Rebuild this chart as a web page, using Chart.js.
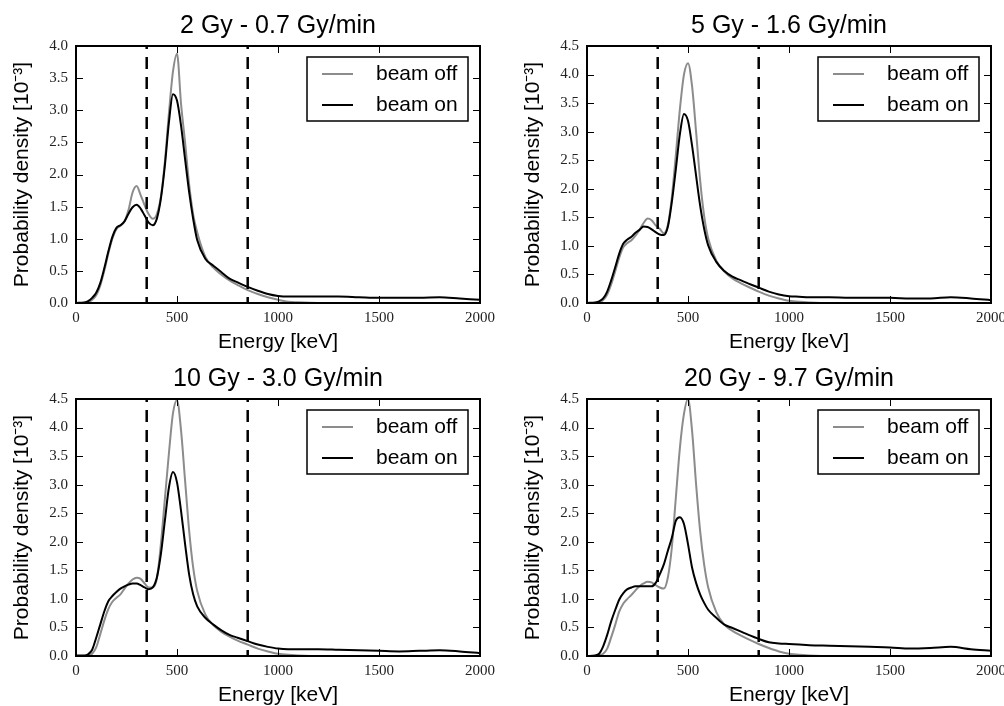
<!DOCTYPE html>
<html>
<head>
<meta charset="utf-8">
<script src="https://cdn.jsdelivr.net/npm/chart.js@4.4.1/dist/chart.umd.min.js"></script>
<style>
  html, body { margin: 0; background: #fff; }
  #page { position: relative; width: 1004px; height: 706px; overflow: hidden; }
  canvas { position: absolute; }
</style>
</head>
<body>
<div id="page">
  <canvas id="c0" width="500" height="353" style="left:0;top:0"></canvas>
  <canvas id="c1" width="493" height="353" style="left:511px;top:0"></canvas>
  <canvas id="c2" width="500" height="353" style="left:0;top:353px"></canvas>
  <canvas id="c3" width="493" height="353" style="left:511px;top:353px"></canvas>
</div>
<script>
// ------- Data ---------------------------------------------------------------

const ENERGY = [0, 40, 60, 80, 100, 120, 140, 160, 180, 200,
  220, 240, 260, 280, 300, 320, 340, 360, 380, 400,
  420, 440, 460, 480, 500, 520, 540, 560, 580, 600,
  640, 680, 720, 760, 800, 850, 900, 950, 1000, 1050,
  1100, 1200, 1300, 1400, 1500, 1600, 1700, 1800, 1900, 2000];

// 2 Gy - 0.7 Gy/min
const OFF_2GY = [0, 0, 0.01, 0.05, 0.12, 0.27, 0.5, 0.77, 1.0, 1.15,
  1.2, 1.27, 1.45, 1.72, 1.82, 1.68, 1.52, 1.38, 1.31, 1.38,
  1.65, 2.2, 2.95, 3.6, 3.88, 3.1, 2.5, 1.85, 1.38, 1.1,
  0.72, 0.55, 0.44, 0.35, 0.28, 0.2, 0.14, 0.09, 0.05, 0.02,
  0.01, 0, 0, 0, 0, 0, 0, 0, 0, 0];
const ON_2GY = [0, 0.01, 0.03, 0.08, 0.16, 0.31, 0.54, 0.8, 1.03, 1.17,
  1.21, 1.27, 1.39, 1.49, 1.53, 1.47, 1.36, 1.25, 1.21, 1.31,
  1.62, 2.14, 2.81, 3.25, 3.15, 2.76, 2.24, 1.73, 1.31, 0.98,
  0.69, 0.58, 0.48, 0.38, 0.32, 0.25, 0.19, 0.14, 0.11, 0.1,
  0.1, 0.1, 0.1, 0.09, 0.08, 0.08, 0.08, 0.09, 0.07, 0.05];

// 5 Gy - 1.6 Gy/min
const OFF_5GY = [0, 0, 0.01, 0.05, 0.15, 0.33, 0.56, 0.8, 0.98, 1.05,
  1.1, 1.18, 1.28, 1.4, 1.48, 1.45, 1.36, 1.3, 1.22, 1.36,
  1.85, 2.6, 3.4, 4.0, 4.2, 3.8, 3.0, 2.15, 1.52, 1.13,
  0.74, 0.55, 0.43, 0.35, 0.28, 0.2, 0.13, 0.08, 0.04, 0.02,
  0.01, 0, 0, 0, 0, 0, 0, 0, 0, 0];
const ON_5GY = [0, 0.01, 0.03, 0.08, 0.2, 0.4, 0.63, 0.87, 1.04, 1.11,
  1.16, 1.23, 1.28, 1.34, 1.33, 1.29, 1.24, 1.2, 1.19, 1.33,
  1.77, 2.35, 2.96, 3.31, 3.19, 2.76, 2.23, 1.71, 1.3, 1.01,
  0.72, 0.56, 0.46, 0.4, 0.34, 0.27, 0.2, 0.15, 0.12, 0.11,
  0.1, 0.1, 0.09, 0.09, 0.09, 0.08, 0.08, 0.1, 0.08, 0.05];

// 10 Gy - 3.0 Gy/min
const OFF_10GY = [0, 0, 0.01, 0.04, 0.15, 0.38, 0.62, 0.82, 0.95, 1.02,
  1.08, 1.18, 1.27, 1.34, 1.37, 1.35, 1.27, 1.2, 1.2, 1.35,
  1.95, 2.75, 3.55, 4.25, 4.48, 3.95, 3.07, 2.2, 1.55, 1.14,
  0.73, 0.54, 0.42, 0.34, 0.27, 0.2, 0.13, 0.08, 0.04, 0.02,
  0.01, 0, 0, 0, 0, 0, 0, 0, 0, 0];
const ON_10GY = [0.01, 0.01, 0.03, 0.11, 0.32, 0.55, 0.78, 0.96, 1.05, 1.12,
  1.18, 1.22, 1.25, 1.27, 1.27, 1.24, 1.2, 1.17, 1.2, 1.37,
  1.78, 2.37, 2.95, 3.22, 3.04, 2.54, 1.96, 1.43, 1.08, 0.87,
  0.67, 0.55, 0.45, 0.37, 0.32, 0.26, 0.2, 0.16, 0.13, 0.12,
  0.12, 0.12, 0.11, 0.1, 0.09, 0.08, 0.09, 0.1, 0.08, 0.05];

// 20 Gy - 9.7 Gy/min
const OFF_20GY = [0, 0, 0.01, 0.04, 0.13, 0.33, 0.55, 0.78, 0.92, 1.0,
  1.07, 1.15, 1.22, 1.27, 1.3, 1.29, 1.24, 1.2, 1.18, 1.37,
  1.9, 2.78, 3.65, 4.24, 4.5, 3.95, 3.01, 2.19, 1.6, 1.2,
  0.77, 0.55, 0.44, 0.36, 0.29, 0.21, 0.14, 0.08, 0.04, 0.02,
  0.01, 0, 0, 0, 0, 0, 0, 0, 0, 0];
const ON_20GY = [0, 0.01, 0.04, 0.17, 0.37, 0.61, 0.81, 0.99, 1.1, 1.17,
  1.2, 1.22, 1.22, 1.22, 1.22, 1.22, 1.28, 1.43, 1.6, 1.84,
  2.07, 2.37, 2.43, 2.31, 1.96, 1.55, 1.28, 1.08, 0.93, 0.81,
  0.67, 0.55, 0.49, 0.43, 0.37, 0.3, 0.24, 0.22, 0.21, 0.2,
  0.19, 0.18, 0.17, 0.16, 0.15, 0.13, 0.14, 0.16, 0.12, 0.09];

const TITLES   = ['2 Gy - 0.7 Gy/min', '5 Gy - 1.6 Gy/min', '10 Gy - 3.0 Gy/min', '20 Gy - 9.7 Gy/min'];
const OFF_SETS = [OFF_2GY, OFF_5GY, OFF_10GY, OFF_20GY];
const ON_SETS  = [ON_2GY, ON_5GY, ON_10GY, ON_20GY];
const Y_MAX    = [4.0, 4.5, 4.5, 4.5];
const CUTS     = [350, 850];          // energy window (dashed)
const LABELS   = ['beam off', 'beam on'];

// ---------------------------------------------------------------------------

const SANS  = '"Liberation Sans", Arial, Helvetica, sans-serif';
const SERIF = '"Liberation Serif", "Times New Roman", serif';
const GREY  = '#8c8c8c';

// matplotlib-ish frame with inward ticks on all four sides
const frameTicks = {
  id: 'frameTicks',
  afterDatasetsDraw (chart) {
    const { ctx, chartArea: a, scales: { x, y } } = chart;
    ctx.save();
    ctx.strokeStyle = '#000';
    ctx.lineWidth = 1;
    ctx.beginPath();
    x.ticks.forEach(t => {
      const px = Math.round(x.getPixelForValue(t.value)) + 0.5;
      ctx.moveTo(px, a.bottom); ctx.lineTo(px, a.bottom - 7);
      ctx.moveTo(px, a.top);    ctx.lineTo(px, a.top + 7);
    });
    y.ticks.forEach(t => {
      const py = Math.round(y.getPixelForValue(t.value)) + 0.5;
      ctx.moveTo(a.left, py);  ctx.lineTo(a.left + 7, py);
      ctx.moveTo(a.right, py); ctx.lineTo(a.right - 7, py);
    });
    ctx.stroke();
    ctx.lineWidth = 2;
    ctx.strokeRect(a.left, a.top, a.right - a.left, a.bottom - a.top);
    ctx.restore();
  }
};

// boxed legend in the upper right corner of the axes
const boxLegend = {
  id: 'boxLegend',
  afterDatasetsDraw (chart) {
    const { ctx, chartArea: a } = chart;
    const items = chart.data.datasets.filter(d => d.label);
    const w = 161, h = 64;
    const x0 = a.right - 12 - w, y0 = a.top + 11;
    ctx.save();
    ctx.fillStyle = '#fff';
    ctx.fillRect(x0, y0, w, h);
    ctx.lineWidth = 1.5;
    ctx.strokeStyle = '#000';
    ctx.strokeRect(x0, y0, w, h);
    ctx.font = '21px ' + SANS;
    ctx.textBaseline = 'middle';
    items.forEach((d, i) => {
      const yy = y0 + 17 + i * 31;
      ctx.strokeStyle = d.borderColor;
      ctx.lineWidth = 2;
      ctx.beginPath();
      ctx.moveTo(x0 + 15, yy);
      ctx.lineTo(x0 + 46, yy);
      ctx.stroke();
      ctx.fillStyle = '#000';
      ctx.fillText(d.label, x0 + 69, yy);
    });
    ctx.restore();
  }
};

function curve (label, values, color, order) {
  return {
    label,
    data: ENERGY.map((e, i) => ({ x: e, y: values[i] })),
    borderColor: color,
    borderWidth: 2,
    pointRadius: 0,
    cubicInterpolationMode: 'monotone',
    fill: false,
    order
  };
}

function cut (e, ymax) {
  return {
    label: '',
    data: [{ x: e, y: 0 }, { x: e, y: ymax }],
    borderColor: '#000',
    borderWidth: 2.5,
    borderDash: [12, 8],
    borderDashOffset: 6,
    pointRadius: 0,
    fill: false,
    order: 0
  };
}

TITLES.forEach((title, i) => {
  const canvas = document.getElementById('c' + i);
  const padRight = canvas.width - 76 - 404;

  new Chart(canvas, {
    type: 'line',
    data: {
      datasets: [
        curve(LABELS[0], OFF_SETS[i], GREY, 2),
        curve(LABELS[1], ON_SETS[i], '#000', 1),
        ...CUTS.map(e => cut(e, Y_MAX[i]))
      ]
    },
    options: {
      responsive: false,
      animation: false,
      events: [],
      layout: { padding: { left: 0, right: padRight, top: 0, bottom: 0 }, autoPadding: false },
      plugins: {
        legend: { display: false },
        tooltip: { enabled: false },
        title: {
          display: true,
          text: title,
          fullSize: false,
          color: '#000',
          font: { family: SANS, size: 25, weight: 'normal', lineHeight: 1.2 },
          padding: { top: 11, bottom: 5 }
        }
      },
      scales: {
        x: {
          type: 'linear',
          min: 0,
          max: 2000,
          grid: { display: false, drawTicks: false },
          border: { display: false },
          ticks: {
            stepSize: 500,
            maxRotation: 0,
            padding: 6,
            color: '#222',
            font: { family: SERIF, size: 15 },
            callback: v => String(v)
          },
          title: {
            display: true,
            text: 'Energy [keV]',
            color: '#000',
            font: { family: SANS, size: 21, lineHeight: 1 },
            padding: { top: 0, bottom: 0 }
          },
          afterFit (s) { s.height = 50; s.paddingLeft = 0; s.paddingRight = 0; }
        },
        y: {
          min: 0,
          max: Y_MAX[i],
          grid: { display: false, drawTicks: false },
          border: { display: false },
          ticks: {
            stepSize: 0.5,
            padding: 8,
            color: '#222',
            font: { family: SERIF, size: 15 },
            callback: v => v.toFixed(1)
          },
          title: {
            display: true,
            text: 'Probability density [10\u207B\u00B3]',
            color: '#000',
            font: { family: SANS, size: 21, lineHeight: 1 },
            padding: { top: 12, bottom: 0 }
          },
          afterFit (s) { s.width = 76; s.paddingTop = 0; s.paddingBottom = 0; }
        }
      }
    },
    plugins: [frameTicks, boxLegend]
  });
});
</script>
</body>
</html>
